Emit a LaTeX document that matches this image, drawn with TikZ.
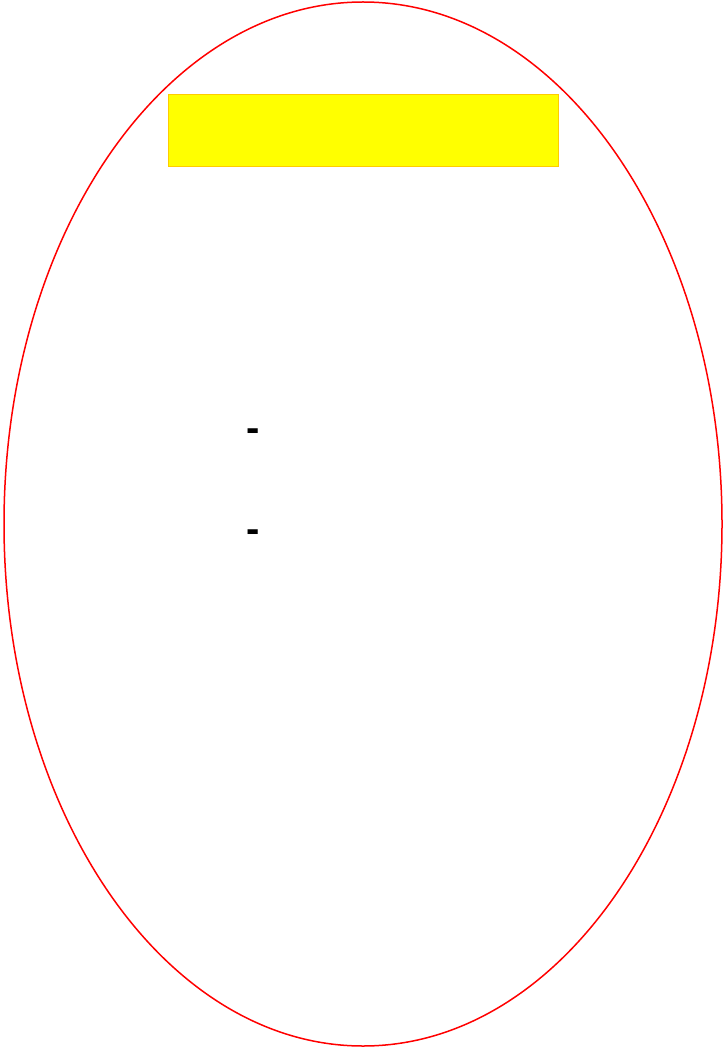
\documentclass[tikz,border=0pt]{standalone}
\usepackage{fontspec}
\setmainfont{Liberation Sans}
\definecolor{ellred}{RGB}{255,0,0}
\definecolor{boxfill}{RGB}{255,255,0}
\definecolor{boxline}{RGB}{255,204,0}
\begin{document}
\begin{tikzpicture}[x=1pt,y=-1pt,
  dashtext/.style={inner sep=0pt,anchor=base west,font=\fontsize{40}{40}\selectfont\bfseries}]
\useasboundingbox (0,0) rectangle (724,1048);
\draw[ellred,line width=1.5pt] (363,524) ellipse [x radius=359,y radius=522];
\node[draw=boxline,fill=boxfill,line width=1.5pt,minimum width=390pt,minimum height=72pt,inner sep=0pt,anchor=north west] (title) at (167.5,94) {};
\node[dashtext] (d1) at (246,441) {-};
\node[dashtext] (d2) at (246,542.5) {-};
\end{tikzpicture}
\end{document}
